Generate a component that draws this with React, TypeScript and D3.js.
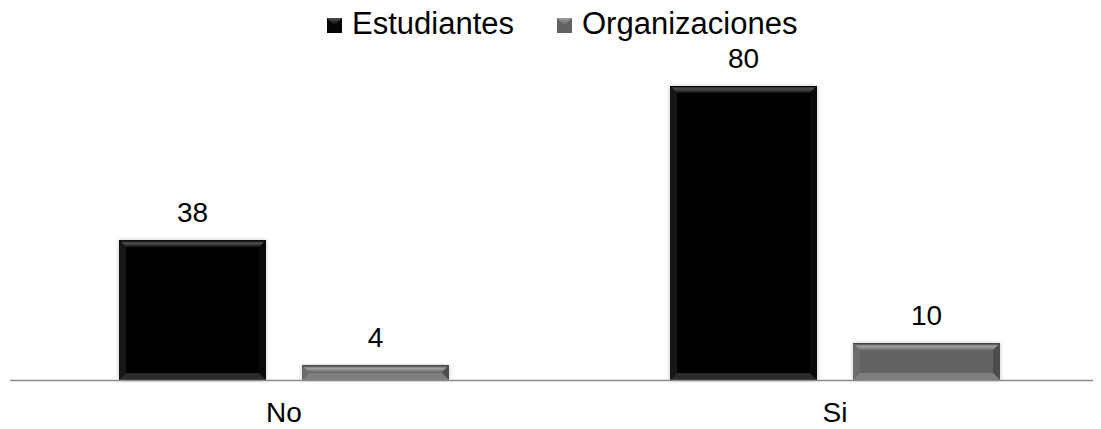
import React from "react";
import * as d3 from "d3";

const categories = ["No", "Si"];
const seriesNames = ["Estudiantes", "Organizaciones"];
const estudiantes = [38, 80];
const organizaciones = [4, 10];

const W = 1101;
const H = 429;
const FONT = "'Liberation Sans', Arial, sans-serif";

type Palette = { base: string; topA: string; topB: string; topC: string; left: string; right: string; bottom: string; edge: string };
const palettes: Palette[] = [
  { base: "#050505", topA: "#1c1c1c", topB: "#4e4e4e", topC: "#0c0c0c", left: "#161616", right: "#0a0a0a", bottom: "#2a2a2a", edge: "#000" },
  { base: "#626262", topA: "#555555", topB: "#9e9e9e", topC: "#6e6e6e", left: "#6c6c6c", right: "#4c4c4c", bottom: "#7e7e7e", edge: "#3c3c3c" },
];

export default function App() {
  const x0 = d3.scaleBand<string>().domain(categories).range([8.5, 1110.5]).padding(0);
  const x1 = d3.scaleBand<string>().domain(seriesNames).range([110.5, 440.5]).paddingInner(36 / 183).paddingOuter(0);
  const y = d3.scaleLinear().domain([0, 80]).range([380, 86]);
  const values = [estudiantes, organizaciones];
  const bev = 7;

  const bars: React.ReactNode[] = [];
  categories.forEach((c, ci) => {
    seriesNames.forEach((s, si) => {
      const v = values[si][ci];
      const xa = x0(c)! + x1(s)!;
      const w = x1.bandwidth();
      const xb = xa + w;
      const ya = y(v);
      const yb = y(0);
      const p = palettes[si];
      const b = Math.min(bev, (yb - ya) / 2);
      bars.push(
        <g key={`${c}-${s}`}>
          <rect x={xa} y={ya} width={w} height={yb - ya} fill={p.base} filter="url(#shadow)" />
          <polygon points={`${xa},${ya} ${xb},${ya} ${xb - b},${ya + b} ${xa + b},${ya + b}`} fill={`url(#top${si})`} />
          <polygon points={`${xa},${ya} ${xa + b},${ya + b} ${xa + b},${yb - b} ${xa},${yb}`} fill={p.left} />
          <polygon points={`${xb},${ya} ${xb - b},${ya + b} ${xb - b},${yb - b} ${xb},${yb}`} fill={p.right} />
          <polygon points={`${xa},${yb} ${xa + b},${yb - b} ${xb - b},${yb - b} ${xb},${yb}`} fill={p.bottom} />
          <line x1={xa} x2={xb} y1={ya + 0.5} y2={ya + 0.5} stroke={p.edge} strokeWidth={1} />
          <text x={xa + w / 2} y={ya - 18} textAnchor="middle" fontSize={28} fontFamily={FONT} fill="#000">
            {v}
          </text>
        </g>
      );
    });
  });

  const legendItems = [
    { name: seriesNames[0], mx: 327, tx: 352 },
    { name: seriesNames[1], mx: 557, tx: 582 },
  ];

  return (
    <svg width={W} height={H} style={{ position: "absolute", left: 0, top: 0, background: "#fff" }}>
      <defs>
        <filter id="shadow" x="-10%" y="-10%" width="120%" height="120%">
          <feGaussianBlur in="SourceAlpha" stdDeviation="2" />
          <feComponentTransfer>
            <feFuncA type="linear" slope="0.25" />
          </feComponentTransfer>
          <feMerge>
            <feMergeNode />
            <feMergeNode in="SourceGraphic" />
          </feMerge>
        </filter>
        {palettes.map((p, i) => (
          <linearGradient key={i} id={`top${i}`} x1="0" y1="0" x2="0" y2="1">
            <stop offset="0" stopColor={p.topA} />
            <stop offset="0.45" stopColor={p.topB} />
            <stop offset="1" stopColor={p.topC} />
          </linearGradient>
        ))}
        {palettes.map((p, i) => (
          <linearGradient key={`m${i}`} id={`mk${i}`} x1="0" y1="0" x2="0" y2="1">
            <stop offset="0" stopColor={p.topB} />
            <stop offset="1" stopColor={p.base} />
          </linearGradient>
        ))}
      </defs>
      {bars}
      <line x1={10} x2={1093} y1={380.5} y2={380.5} stroke="#8c8c8c" strokeWidth={1.5} />
      {categories.map((c) => (
        <text key={c} x={x0(c)! + 275.5} y={422} textAnchor="middle" fontSize={28} fontFamily={FONT} fill="#000">
          {c}
        </text>
      ))}
      {legendItems.map((l, i) => (
        <g key={l.name}>
          <rect x={l.mx} y={18} width={15} height={15} fill={palettes[i].base} />
          <polygon points={`${l.mx},18 ${l.mx + 15},18 ${l.mx + 7.5},25.5`} fill={`url(#mk${i})`} />
          <text x={l.tx} y={34} fontSize={31} fontFamily={FONT} fill="#000">
            {l.name}
          </text>
        </g>
      ))}
    </svg>
  );
}
